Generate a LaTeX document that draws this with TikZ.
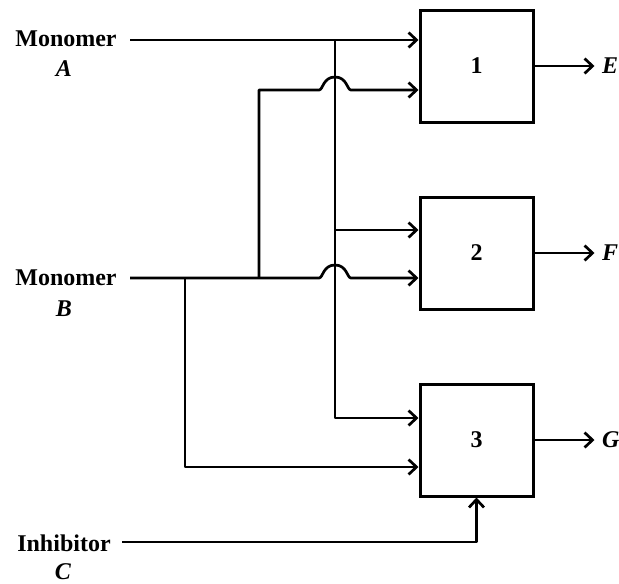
\documentclass[tikz,border=0pt]{standalone}
\usepackage{fontspec}
\setmainfont{Liberation Serif}
\usetikzlibrary{arrows.meta}
\begin{document}
\begin{tikzpicture}[x=1pt,y=-1pt,
  unit/.style={draw, line width=3pt, minimum width=113pt, minimum height=112pt,
    font=\fontsize{24}{26}\selectfont\bfseries, inner sep=0pt},
  flow/.style={line width=2.7pt, line join=round},
  feed/.style={flow, -{Straight Barb[length=8pt,width=15pt]}},
  lbl/.style={font=\fontsize{24}{26}\selectfont\bfseries, inner sep=0pt},
  sym/.style={font=\fontsize{24}{26}\selectfont\bfseries\itshape, inner sep=0pt}]
\useasboundingbox (0,0) rectangle (619,584);

% reactors
\node[unit] (r1) at (476.5,66) {1};
\node[unit] (r2) at (476.5,253) {2};
\node[unit] (r3) at (476.5,440) {3};

% feed labels
\node[lbl] (mA) at (66,39) {Monomer};
\node[sym] (sA) at (64,69) {A};
\node[lbl] (mB) at (66,278) {Monomer};
\node[sym] (sB) at (64,309) {B};
\node[lbl] (inh) at (64,543) {Inhibitor};
\node[sym] (sC) at (63,572) {C};

% product labels
\node[sym, anchor=west] (pE) at (602,66) {E};
\node[sym, anchor=west] (pF) at (602,253) {F};
\node[sym, anchor=west] (pG) at (602,440) {G};

% line start points and junctions
\coordinate (a0) at (130,40);
\coordinate (b0) at (130,278);
\coordinate (c0) at (122,542);
\coordinate (jA) at (335,40);
\coordinate (jA2) at (335,230);
\coordinate (tA) at (335,418);
\coordinate (jB1) at (259,278);
\coordinate (uB) at (259,90);
\coordinate (jB2) at (185,278);
\coordinate (dB) at (185,467);
\coordinate (tC) at (476.5,542);

% monomer A
\draw[feed] (a0) -- (r1.west |- a0);
\draw[feed] (jA) -- (tA) -- (r3.west |- tA);
\draw[feed] (jA2) -- (r2.west |- jA2);

% monomer B (hops over the A line)
\draw[feed] (b0) -- (319,278)
  .. controls (323,278) and (323,265) .. (335,265)
  .. controls (347,265) and (347,278) .. (351,278)
  -- (r2.west |- b0);
\draw[feed] (jB1) -- (uB) -- (319,90)
  .. controls (323,90) and (323,77) .. (335,77)
  .. controls (347,77) and (347,90) .. (351,90)
  -- (r1.west |- uB);
\draw[feed] (jB2) -- (dB) -- (r3.west |- dB);

% inhibitor C
\draw[feed] (c0) -- (tC) -- (r3.south);

% products
\draw[feed] (r1.east) -- ++(60,0);
\draw[feed] (r2.east) -- ++(60,0);
\draw[feed] (r3.east) -- ++(60,0);
\end{tikzpicture}
\end{document}
